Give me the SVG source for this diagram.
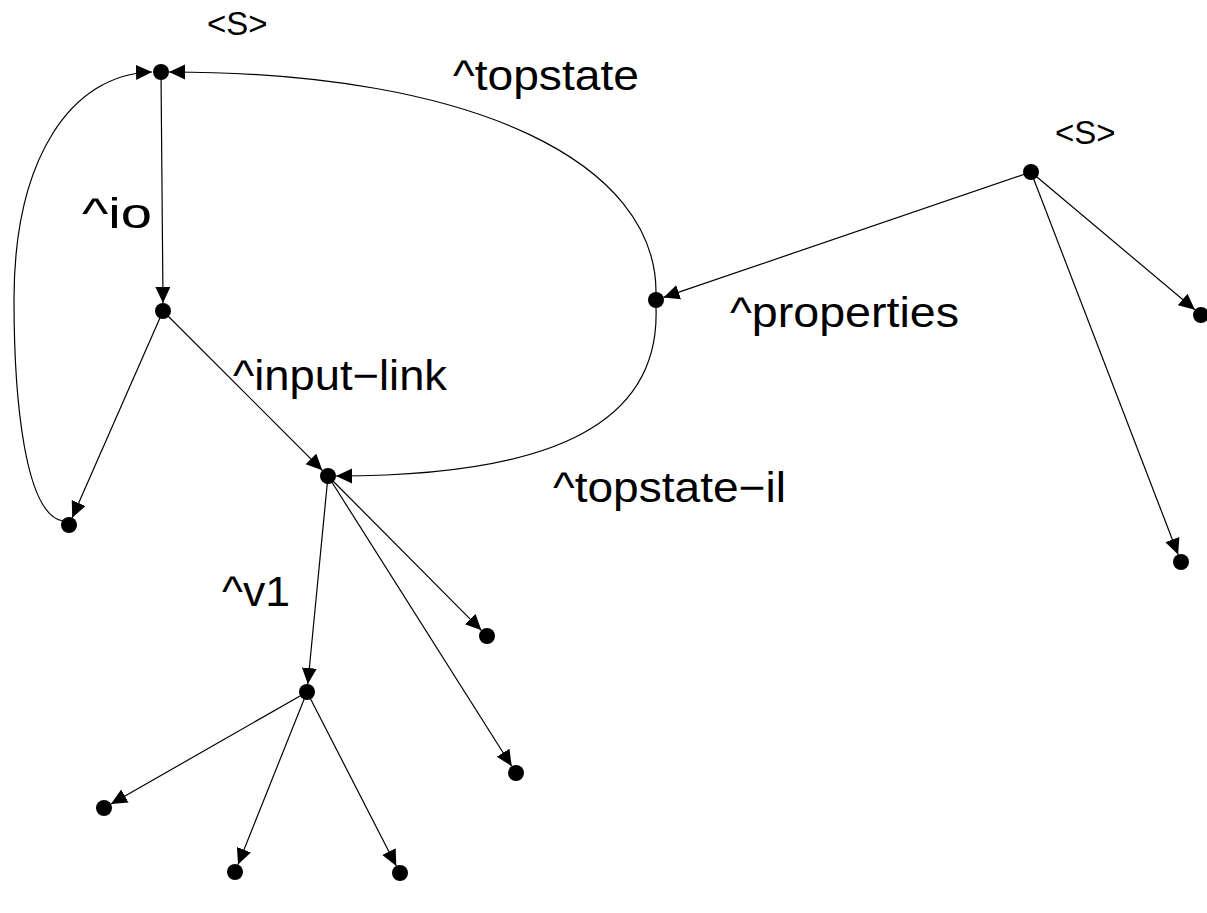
<svg xmlns="http://www.w3.org/2000/svg" width="1207" height="913" viewBox="0 0 1207 913">
  <style>
    .edge { fill: none; stroke: #000; stroke-width: 1.2; marker-end: url(#arrow); }
    .node { fill: #000; }
    .lbl { font-family: "Liberation Sans", Arial, sans-serif; font-size: 42px; fill: #000; }
    .root { font-family: "Liberation Sans", Arial, sans-serif; font-size: 33px; fill: #000; }
  </style>
  <defs>
    <marker id="arrow" markerUnits="userSpaceOnUse" markerWidth="17" markerHeight="16" refX="16" refY="7.5" orient="auto">
      <path d="M0,0 L16,7.5 L0,15 z" fill="#000"/>
    </marker>
  </defs>
  <rect width="1207" height="913" fill="#fff"/>

  <g id="connectors">
    <path class="edge" d="M161,72 L163,303"/>
    <path class="edge" d="M163,311 L72.2,517.7"/>
    <path class="edge" d="M163,311 L322.3,470.3"/>
    <path class="edge" d="M63,521 C25,515 14,400 14,300 C14,160 70,74 152,72"/>
    <path class="edge" d="M656,292 C656,165 480,72 169,72"/>
    <path class="edge" d="M656,308 C660,420 560,476 336,476"/>
    <path class="edge" d="M1031,172 L663.5,297.4"/>
    <path class="edge" d="M1031,172 L1194.9,309.8"/>
    <path class="edge" d="M1031,172 L1178.1,554.5"/>
    <path class="edge" d="M328,476 L307.8,684"/>
    <path class="edge" d="M328,476 L481.4,630.3"/>
    <path class="edge" d="M328,476 L511.7,766.2"/>
    <path class="edge" d="M307,692 L111,804"/>
    <path class="edge" d="M307,692 L238,864.6"/>
    <path class="edge" d="M307,692 L396.3,865.9"/>
  </g>

  <g id="edge-labels">
    <text class="lbl" x="453" y="90" textLength="186" lengthAdjust="spacingAndGlyphs">^topstate</text>
    <text class="lbl" x="82" y="228" textLength="70" lengthAdjust="spacingAndGlyphs">^io</text>
    <text class="lbl" x="730" y="327" textLength="229" lengthAdjust="spacingAndGlyphs">^properties</text>
    <text class="lbl" x="233" y="390" textLength="214" lengthAdjust="spacingAndGlyphs">^input−link</text>
    <text class="lbl" x="553" y="502" textLength="233" lengthAdjust="spacingAndGlyphs">^topstate−il</text>
    <text class="lbl" x="222" y="606" textLength="68" lengthAdjust="spacingAndGlyphs">^v1</text>
  </g>

  <g id="n-s1"><circle class="node" cx="161" cy="72" r="8"/><text class="root" x="207" y="35">&lt;S&gt;</text></g>
  <g id="n-io"><circle class="node" cx="163" cy="311" r="8"/></g>
  <g id="n-a"><circle class="node" cx="69" cy="525" r="8"/></g>
  <g id="n-il"><circle class="node" cx="328" cy="476" r="8"/></g>
  <g id="n-p"><circle class="node" cx="656" cy="300" r="8"/></g>
  <g id="n-s2"><circle class="node" cx="1031" cy="172" r="8"/><text class="root" x="1055" y="144">&lt;S&gt;</text></g>
  <g id="n-r1"><circle class="node" cx="1201" cy="315" r="8"/></g>
  <g id="n-r2"><circle class="node" cx="1181" cy="562" r="8"/></g>
  <g id="n-c1"><circle class="node" cx="487" cy="636" r="8"/></g>
  <g id="n-c2"><circle class="node" cx="516" cy="773" r="8"/></g>
  <g id="n-v1"><circle class="node" cx="307" cy="692" r="8"/></g>
  <g id="n-d1"><circle class="node" cx="104" cy="808" r="8"/></g>
  <g id="n-d2"><circle class="node" cx="235" cy="872" r="8"/></g>
  <g id="n-d3"><circle class="node" cx="400" cy="873" r="8"/></g>
</svg>
